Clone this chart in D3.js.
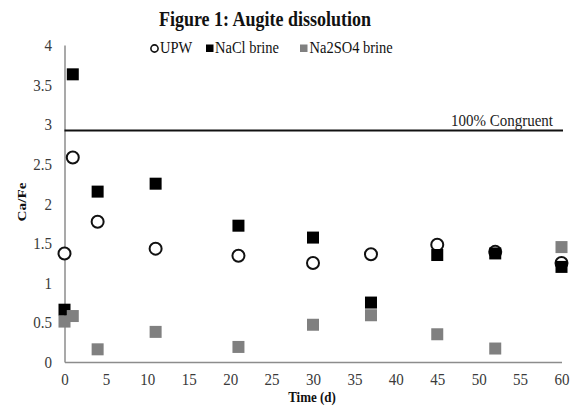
<!DOCTYPE html>
<html><head><meta charset="utf-8">
<script src="https://cdn.jsdelivr.net/npm/d3@7"></script>
<style>body{margin:0;background:#fff}svg{display:block}text{font-family:"Liberation Serif","Times New Roman",serif}</style>
</head><body><svg id="c" width="575" height="406"></svg>
<script>
const times = [0, 1, 4, 11, 21, 30, 37, 45, 52, 60];
const upw = [1.37, 2.58, 1.77, 1.43, 1.34, 1.25, 1.36, 1.48, 1.39, 1.25];
const nacl = [0.66, 3.63, 2.15, 2.25, 1.72, 1.57, 0.75, 1.35, 1.37, 1.20];
const na2so4 = [0.51, 0.58, 0.16, 0.38, 0.19, 0.47, 0.59, 0.35, 0.17, 1.45];
const congruent = 2.92;
const yTicks = [0, 0.5, 1, 1.5, 2, 2.5, 3, 3.5, 4];
const xTicks = [0, 5, 10, 15, 20, 25, 30, 35, 40, 45, 50, 55, 60];
const seriesNames = ["UPW", "NaCl brine", "Na2SO4 brine"];

const K = 1.17; // vertical stretch of the original's text
const svg = d3.select("#c");
const x = d3.scaleLinear().domain([0, 60]).range([64.5, 561.5]);
const y = d3.scaleLinear().domain([0, 4]).range([362, 45]);

function stext(px, py, str, size, opts = {}) {
  const t = svg.append("text")
    .attr("transform", `translate(${px},${py}) ${opts.rot ? "rotate(-90) scale(" + K + ",1)" : "scale(1," + K + ")"}`)
    .attr("font-size", size).attr("text-anchor", opts.anchor || "start")
    .attr("fill", opts.fill || "#111").text(str);
  if (opts.bold) t.attr("font-weight", "bold");
  return t;
}

// title
stext(265, 26, "Figure 1: Augite dissolution", 18, {anchor: "middle", bold: true});

// axes
const xa = svg.append("g").attr("transform", "translate(0,362)")
  .call(d3.axisBottom(x).tickValues(xTicks).tickSize(0).tickFormat(d3.format("d")));
xa.select(".domain").attr("stroke", "#8c8c8c").attr("stroke-width", 1.5);
xa.attr("font-family", null);
xa.selectAll(".tick text").attr("y", 0).attr("dy", null)
  .attr("transform", `translate(0,23) scale(1,${K})`)
  .attr("font-size", 15).attr("fill", "#3a3a3a");

const ya = svg.append("g").attr("transform", "translate(64.5,0)")
  .call(d3.axisLeft(y).tickValues(yTicks).tickSize(0).tickFormat(d => d));
ya.select(".domain").attr("stroke", "#8c8c8c").attr("stroke-width", 1.5);
ya.attr("font-family", null);
ya.selectAll(".tick text").attr("x", 0).attr("dy", null)
  .attr("transform", `translate(-12.5,5.5) scale(1,${K})`)
  .attr("font-size", 15).attr("fill", "#3a3a3a");

// axis titles
stext(25.5, 202, "Ca/Fe", 13, {anchor: "middle", bold: true, rot: true});
stext(312, 402, "Time (d)", 13, {anchor: "middle", bold: true});

// congruent line
svg.append("line").attr("x1", x(0)).attr("x2", x(60) + 1.5).attr("y1", y(congruent)).attr("y2", y(congruent))
  .attr("stroke", "#111").attr("stroke-width", 2);
stext(553, y(congruent) - 5, "100% Congruent", 15, {anchor: "end", fill: "#222"});

// markers
const s = 12;
svg.append("g").selectAll("circle").data(times.map((t, i) => [t, upw[i]])).join("circle")
  .attr("cx", d => x(d[0])).attr("cy", d => y(d[1])).attr("r", 6)
  .attr("fill", "#fff").attr("stroke", "#111").attr("stroke-width", 2);
svg.append("g").selectAll("rect").data(times.map((t, i) => [t, nacl[i]])).join("rect")
  .attr("x", d => x(d[0]) - s / 2).attr("y", d => y(d[1]) - s / 2).attr("width", s).attr("height", s)
  .attr("fill", "#000");
svg.append("g").selectAll("rect").data(times.map((t, i) => [t, na2so4[i]])).join("rect")
  .attr("x", d => x(d[0]) - s / 2).attr("y", d => y(d[1]) - s / 2).attr("width", s).attr("height", s)
  .attr("fill", "#808080");

// legend
svg.append("circle").attr("cx", 154.5).attr("cy", 48.5).attr("r", 3.6).attr("fill", "#fff").attr("stroke", "#111").attr("stroke-width", 1.6);
stext(160, 53, seriesNames[0], 14.5);
svg.append("rect").attr("x", 206).attr("y", 44.5).attr("width", 7.5).attr("height", 7.5).attr("fill", "#000");
stext(215, 53, seriesNames[1], 14.5);
svg.append("rect").attr("x", 300).attr("y", 44.5).attr("width", 7.5).attr("height", 7.5).attr("fill", "#808080");
stext(309.5, 53, seriesNames[2], 14.5);
</script></body></html>
